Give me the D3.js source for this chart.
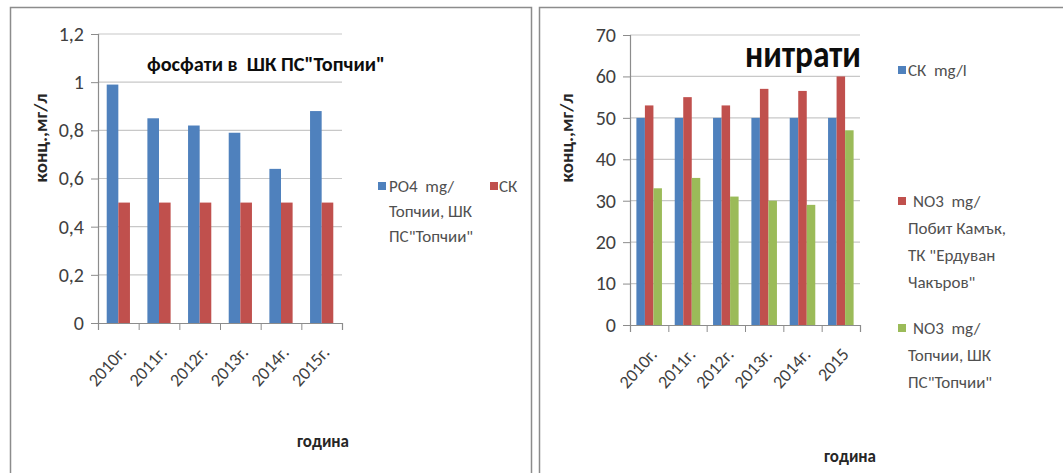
<!DOCTYPE html>
<html>
<head>
<meta charset="utf-8">
<script src="https://cdn.jsdelivr.net/npm/d3@7"></script>
<style>
  body { margin: 0; background: #fff; }
  svg text { font-family: Carlito, "Liberation Sans Narrow", "DejaVu Sans Condensed", "Open Sans", sans-serif; white-space: pre; }
</style>
</head>
<body>
<div id="chart"></div>
<script>
// categories
var yearsLeft = ["2010г.", "2011г.", "2012г.", "2013г.", "2014г.", "2015г."];
var yearsRight = ["2010г.", "2011г.", "2012г.", "2013г.", "2014г.", "2015"];

// phosphates (left chart)
var po4Topchii = [0.99, 0.85, 0.82, 0.79, 0.64, 0.88];
var po4Limit = [0.5, 0.5, 0.5, 0.5, 0.5, 0.5];
var leftTicks = [0, 0.2, 0.4, 0.6, 0.8, 1, 1.2];

// nitrates (right chart)
var no3Limit = [50, 50, 50, 50, 50, 50];
var no3PobitKamak = [53, 55, 53, 57, 56.5, 60];
var no3Topchii = [33, 35.5, 31, 30, 29, 47];
var rightTicks = [0, 10, 20, 30, 40, 50, 60, 70];

var blue = "#4f81bd", red = "#c0504d", green = "#9bbb59";

var svg = d3.select("#chart").append("svg")
    .attr("width", 1063)
    .attr("height", 473);

// panel frames
svg.append("path")
    .attr("d", "M10.5,480 V7.5 H531.5 V480")
    .attr("fill", "none").attr("stroke", "#8c8c8c").attr("stroke-width", 1.5);
svg.append("path")
    .attr("d", "M539.5,480 V7.5 H1063")
    .attr("fill", "none").attr("stroke", "#8c8c8c").attr("stroke-width", 1.5);

function drawPanel(cfg) {
    var g = svg.append("g");

    var x = d3.scaleBand().domain(cfg.cats).range([cfg.left, cfg.right]).paddingInner(0).paddingOuter(0);
    var xLin = d3.scaleLinear().domain([0, cfg.cats.length]).range([cfg.left, cfg.right]);
    var y = d3.scaleLinear().domain([0, cfg.max]).range([cfg.bottom, cfg.top]);

    // gridlines
    g.append("g").selectAll("line")
        .data(cfg.ticks.slice(1))
        .enter().append("line")
        .attr("x1", cfg.left).attr("x2", cfg.right)
        .attr("y1", function(d) { return y(d); })
        .attr("y2", function(d) { return y(d); })
        .attr("stroke", "#c8c8c8").attr("stroke-width", 1.2);

    // bars, excel style gap of 150%
    var n = cfg.series.length;
    var bw = x.bandwidth() / (n + 1.5);
    cfg.series.forEach(function(s, i) {
        g.append("g").selectAll("rect")
            .data(s.values)
            .enter().append("rect")
            .attr("x", function(d, j) { return x(cfg.cats[j]) + 0.75 * bw + i * bw; })
            .attr("width", bw)
            .attr("y", function(d) { return y(d); })
            .attr("height", function(d) { return cfg.bottom - y(d); })
            .attr("fill", s.color);
    });

    // y axis
    var yAxis = d3.axisLeft(y).tickValues(cfg.ticks).tickSize(7).tickPadding(7)
        .tickFormat(function(d) { return String(d).replace(".", ","); });
    var yg = g.append("g")
        .attr("transform", "translate(" + cfg.left + ",0)")
        .call(yAxis);
    yg.select(".domain").attr("stroke", "#8c8c8c").attr("stroke-width", 1.2);
    yg.selectAll(".tick line").attr("stroke", "#8c8c8c");
    yg.selectAll(".tick text").attr("fill", "#404040").style("font-size", cfg.tickFont + "px");

    // x axis (ticks on category borders)
    var xAxis = d3.axisBottom(xLin).tickValues(d3.range(0, cfg.cats.length + 1)).tickSize(7).tickFormat("");
    var xg = g.append("g")
        .attr("transform", "translate(0," + cfg.bottom + ")")
        .call(xAxis);
    xg.select(".domain").attr("stroke", "#8c8c8c").attr("stroke-width", 1.2);
    xg.selectAll(".tick line").attr("stroke", "#8c8c8c");

    g.append("g").selectAll("text")
        .data(cfg.cats)
        .enter().append("text")
        .attr("transform", function(d) {
            return "translate(" + (x(d) + x.bandwidth() / 2 + 9) + "," + (cfg.bottom + 30) + ") rotate(-48)";
        })
        .attr("text-anchor", "end")
        .attr("fill", "#404040")
        .style("font-size", "18px")
        .text(function(d) { return d; });

    // axis titles
    g.append("text")
        .attr("transform", "translate(" + cfg.yTitleX + ",138) rotate(-90)")
        .attr("text-anchor", "middle")
        .attr("font-weight", "bold")
        .attr("fill", "#262626")
        .style("font-size", "19px")
        .text("конц.,мг/л");
    g.append("text")
        .attr("x", cfg.xTitle[0]).attr("y", cfg.xTitle[1])
        .attr("text-anchor", "middle")
        .attr("font-weight", "bold")
        .attr("fill", "#262626")
        .style("font-size", "17px")
        .text("година");

    // chart title
    g.append("text")
        .attr("x", cfg.title.x).attr("y", cfg.title.y)
        .attr("textLength", cfg.title.w)
        .attr("lengthAdjust", "spacingAndGlyphs")
        .attr("font-weight", "bold")
        .attr("fill", "#0d0d0d")
        .style("font-size", cfg.title.size + "px")
        .text(cfg.title.text);

    // legend
    cfg.legend.forEach(function(item) {
        g.append("rect")
            .attr("x", item.x).attr("y", item.y - 4)
            .attr("width", 8).attr("height", 8)
            .attr("fill", item.color);
        item.lines.forEach(function(line, k) {
            g.append("text")
                .attr("x", item.x + (k === 0 ? item.dx0 : item.dx))
                .attr("y", item.y + k * item.lh)
                .attr("dy", "0.35em")
                .attr("fill", "#505050")
                .style("font-size", "17px")
                .text(line);
        });
    });
}

drawPanel({
    cats: yearsLeft,
    left: 98, right: 342, top: 34, bottom: 323,
    max: 1.2, ticks: leftTicks, tickFont: 20,
    series: [
        { values: po4Topchii, color: blue },
        { values: po4Limit, color: red }
    ],
    yTitleX: 47,
    xTitle: [323, 447],
    title: { text: "фосфати в  ШК ПС\"Топчии\"", x: 147, y: 71, w: 238, size: 20 },
    legend: [
        { x: 378, y: 186, color: blue, dx0: 11, dx: 11, lh: 25, lines: ["PO4  mg/", "Топчии, ШК", "ПС\"Топчии\""] },
        { x: 490, y: 186, color: red, dx0: 9, dx: 9, lh: 25, lines: ["СК"] }
    ]
});

drawPanel({
    cats: yearsRight,
    left: 630, right: 860, top: 35, bottom: 325,
    max: 70, ticks: rightTicks, tickFont: 20,
    series: [
        { values: no3Limit, color: blue },
        { values: no3PobitKamak, color: red },
        { values: no3Topchii, color: green }
    ],
    yTitleX: 573,
    xTitle: [850, 462],
    title: { text: "нитрати", x: 745, y: 67, w: 116, size: 38 },
    legend: [
        { x: 898, y: 70, color: blue, dx0: 10, dx: 10, lh: 27, lines: ["СК  mg/l"] },
        { x: 898, y: 201, color: red, dx0: 15, dx: 10, lh: 27, lines: ["NO3  mg/", "Побит Камък,", "ТК \"Ердуван", "Чакъров\""] },
        { x: 898, y: 328, color: green, dx0: 15, dx: 10, lh: 27, lines: ["NO3  mg/", "Топчии, ШК", "ПС\"Топчии\""] }
    ]
});
</script>
</body>
</html>
